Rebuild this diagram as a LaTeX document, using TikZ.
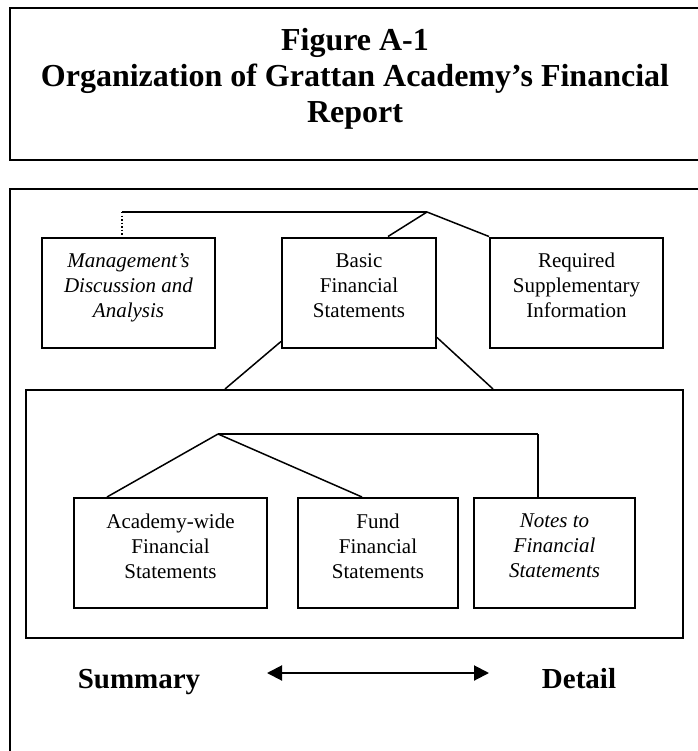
\documentclass[tikz,border=0pt]{standalone}
\usepackage{fontspec}
\setmainfont{Liberation Serif}
\usepackage{tikz}
\usetikzlibrary{arrows.meta,calc}
\pgfdeclarelayer{edgelayer}
\pgfdeclarelayer{nodelayer}
\pgfsetlayers{edgelayer,nodelayer,main}
\tikzstyle{box}=[draw=black,line width=2pt,inner sep=0pt,minimum height=110pt,align=center,text depth=14pt,font=\fontsize{21}{25}\selectfont]
\tikzstyle{note}=[box,font=\fontsize{21}{25}\selectfont\itshape]
\tikzstyle{group}=[draw=black,line width=2pt,inner sep=0pt,minimum width=657pt,minimum height=248pt]
\tikzstyle{frame}=[draw=black,line width=2.2pt]
\tikzstyle{link}=[-,draw=black,line width=1.5pt]
\tikzstyle{heading}=[inner sep=0pt,align=center,font=\fontsize{32}{36}\selectfont\bfseries]
\tikzstyle{scalelabel}=[inner sep=0pt,font=\fontsize{29}{33}\selectfont\bfseries]
\tikzstyle{span}=[{Triangle[length=15pt,width=15pt]}-{Triangle[length=15pt,width=15pt]},draw=black,line width=2pt]

\begin{document}
\begin{tikzpicture}[x=1pt,y=-1pt]
	\clip (0,0) rectangle (697,751);
	\begin{pgfonlayer}{nodelayer}
		\node [heading, anchor=north] (0) at (355, 28) {Figure A-1\\Organization of Grattan Academy’s Financial\\Report};
		\node [note, minimum width=173pt] (1) at (128.5, 292.5) {Management’s\\Discussion and\\Analysis};
		\node [box, minimum width=154pt] (2) at (359, 292.5) {Basic\\Financial\\Statements};
		\node [box, minimum width=173pt] (3) at (576.5, 292.5) {Required\\Supplementary\\Information};
		\node [group] (4) at (354.5, 514) {};
		\node [box, minimum width=193pt] (5) at (170.5, 553) {Academy-wide\\Financial\\Statements};
		\node [box, minimum width=160pt] (6) at (378, 553) {Fund\\Financial\\Statements};
		\node [note, minimum width=161pt] (7) at (554.5, 553) {Notes to\\Financial\\Statements};
		\node [scalelabel, anchor=base] (8) at (139, 688) {Summary};
		\node [scalelabel, anchor=base] (9) at (579, 688) {Detail};
		\coordinate (10) at (122, 212);
		\coordinate (11) at (427, 212);
		\coordinate (12) at (218, 434);
		\coordinate (13) at (538, 434);
		\coordinate (14) at (267, 673);
		\coordinate (15) at (489, 673);
	\end{pgfonlayer}
	\begin{pgfonlayer}{edgelayer}
		\draw [frame] (10,8) rectangle (710,160);
		\draw [frame] (10,189) rectangle (710,770);
		\draw [link, dotted, line width=1.2pt] (10) to (10 |- 1.north);
		\draw [link] (10) to (11);
		\draw [link] (11) to ($(2.north)+(29,0)$);
		\draw [link] (11) to (3.north west);
		\draw [link] ($(2.south west)+(0,-7)$) to ($(4.north)+(-129.5,0)$);
		\draw [link] ($(2.south east)+(0,-11)$) to ($(4.north)+(138.5,0)$);
		\draw [link] (12) to ($(5.north)+(-63.5,0)$);
		\draw [link] (12) to ($(6.north)+(-16,0)$);
		\draw [link] (12) to (13);
		\draw [link] (13) to (13 |- 7.north);
		\draw [span] (14) to (15);
	\end{pgfonlayer}
\end{tikzpicture}
\end{document}
